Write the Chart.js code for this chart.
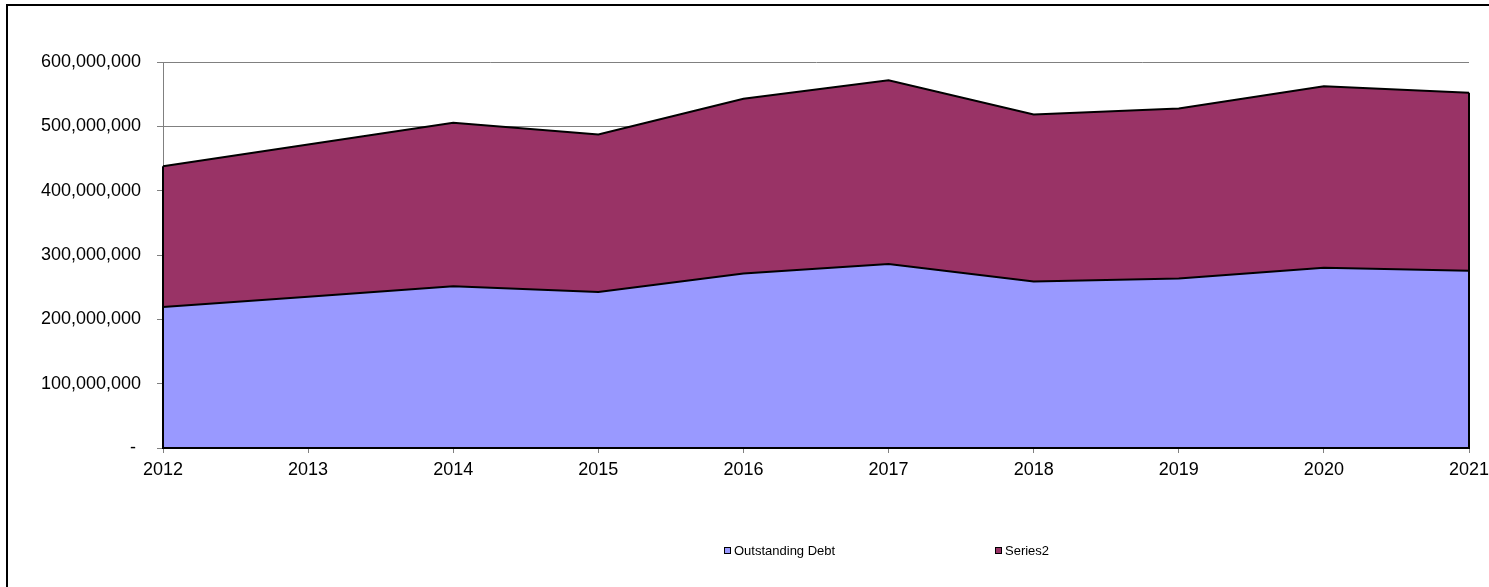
<!DOCTYPE html>
<html>
<head>
<meta charset="utf-8">
<script src="https://cdn.jsdelivr.net/npm/chart.js@4/dist/chart.umd.min.js"></script>
<style>
  html, body { margin: 0; padding: 0; background: #fff; overflow: hidden; width: 1489px; height: 587px; }
  #wrap { position: relative; width: 1489px; height: 587px; }
  #frame { position: absolute; left: 6px; top: 4px; width: 1600px; height: 700px; border: 2px solid #000; box-sizing: border-box; pointer-events: none; }
  canvas { position: absolute; left: 0; top: 0; }
  .lg { position: absolute; font-family: "Liberation Sans", Arial, sans-serif; font-size: 13px; color: #000; line-height: 14px; white-space: nowrap; }
  .lg .box { position: absolute; left: 0; top: 3px; width: 7px; height: 7px; border: 1px solid #000; box-sizing: border-box; }
  .lg .txt { position: absolute; left: 10px; top: 0; }
</style>
</head>
<body>
<div id="wrap">
  <div id="frame"></div>
  <canvas id="c" width="1489" height="587"></canvas>
  <div id="legend"></div>
</div>
<script>
const years = ['2012','2013','2014','2015','2016','2017','2018','2019','2020','2021'];
const outstandingDebt = [219300000, 235000000, 251300000, 242600000, 271100000, 285900000, 258800000, 263300000, 280300000, 275700000];
const series2 = [218600000, 236600000, 254100000, 244600000, 271700000, 285800000, 259500000, 264300000, 281900000, 276400000];
const seriesNames = ['Outstanding Debt', 'Series2'];
const seriesColors = ['#9999FF', '#993366'];
const yTicks = [0, 100000000, 200000000, 300000000, 400000000, 500000000, 600000000];

const FONT = "'Liberation Sans', Arial, sans-serif";

const outlinePlugin = {
  id: 'areaOutline',
  afterDatasetsDraw(chart) {
    const ctx = chart.ctx;
    const y = chart.scales.y;
    const last = chart.getDatasetMeta(chart.data.datasets.length - 1).data;
    if (!last.length) return;
    const base = y.getPixelForValue(0);
    const p0 = last[0], pn = last[last.length - 1];
    ctx.save();
    ctx.strokeStyle = '#000';
    ctx.lineWidth = 2;
    ctx.beginPath();
    ctx.moveTo(p0.x, p0.y);
    ctx.lineTo(p0.x, base);
    ctx.lineTo(pn.x, base);
    ctx.lineTo(pn.x, pn.y);
    ctx.stroke();
    ctx.restore();
  }
};

const ctx = document.getElementById('c').getContext('2d');
new Chart(ctx, {
  type: 'line',
  data: {
    labels: years,
    datasets: [
      { label: seriesNames[0], data: outstandingDebt, backgroundColor: seriesColors[0], borderColor: '#000', borderWidth: 2, fill: 'origin', pointRadius: 0, tension: 0 },
      { label: seriesNames[1], data: series2, backgroundColor: seriesColors[1], borderColor: '#000', borderWidth: 2, fill: '-1', pointRadius: 0, tension: 0 }
    ]
  },
  options: {
    responsive: false,
    animation: false,
    devicePixelRatio: 1,
    layout: { padding: { top: 62, right: 20, bottom: 99, left: 0 } },
    plugins: { legend: { display: false }, tooltip: { enabled: false } },
    elements: { line: { borderJoinStyle: 'miter' } },
    scales: {
      x: {
        offset: false,
        grid: { drawOnChartArea: false, drawTicks: true, tickLength: 5, color: '#808080', lineWidth: 1 },
        border: { display: true, color: '#000', width: 2 },
        ticks: { color: '#000', font: { family: FONT, size: 18 }, padding: 6, maxRotation: 0, autoSkip: false },
        afterFit(s) { s.height = 40; s.paddingLeft = 0; s.paddingRight = 0; }
      },
      y: {
        stacked: true,
        min: 0,
        max: 600000000,
        afterBuildTicks(s) { s.ticks = yTicks.map(v => ({ value: v })); },
        grid: { drawOnChartArea: true, drawTicks: true, tickLength: 6, color: '#808080', lineWidth: 1 },
        border: { display: true, color: '#808080', width: 1 },
        ticks: {
          color: '#000',
          font: { family: FONT, size: 18 },
          padding: 16,
          callback: v => v === 0 ? '- ' : Number(v).toLocaleString('en-US')
        },
        afterFit(s) { s.width = 163; s.paddingTop = 0; s.paddingBottom = 0; }
      }
    }
  },
  plugins: [outlinePlugin]
});

// Legend (HTML text)
const legendPos = [724, 995];
const legend = document.getElementById('legend');
seriesNames.forEach((name, i) => {
  const d = document.createElement('div');
  d.className = 'lg';
  d.style.left = legendPos[i] + 'px';
  d.style.top = '544px';
  d.innerHTML = '<span class="box" style="background:' + seriesColors[i] + '"></span><span class="txt">' + name + '</span>';
  legend.appendChild(d);
});
</script>
</body>
</html>
